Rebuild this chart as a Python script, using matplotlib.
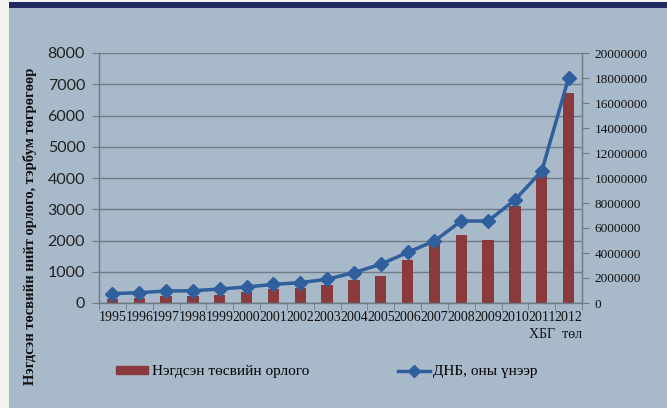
import matplotlib
matplotlib.use("Agg")
import matplotlib.pyplot as plt
import matplotlib.patches as mpatches
from matplotlib.lines import Line2D
import numpy as np

years = ["1995", "1996", "1997", "1998", "1999", "2000", "2001", "2002", "2003",
         "2004", "2005", "2006", "2007", "2008", "2009", "2010", "2011", "2012"]
revenue = [130, 170, 220, 220, 265, 360, 440, 490, 565,
           725, 850, 1375, 1900, 2185, 2005, 3100, 4100, 6720]
gdp = [750000, 825000, 960000, 980000, 1120000, 1280000, 1490000, 1630000, 1900000,
       2430000, 3100000, 4050000, 4960000, 6560000, 6560000, 8250000, 10560000, 18000000]
left_ticks = [0, 1000, 2000, 3000, 4000, 5000, 6000, 7000, 8000]
right_ticks = [0, 2000000, 4000000, 6000000, 8000000, 10000000, 12000000, 14000000,
               16000000, 18000000, 20000000]

bg = "#a8b9ca"
bar_color = "#8a3a3d"
line_color = "#2f5f9d"
grid_color = "#6f7c88"
serif = "Liberation Serif"

fig = plt.figure(figsize=(6.67, 4.08), dpi=100, facecolor=bg)
fig.patches.append(mpatches.Rectangle((0, 0), 9/667, 1, transform=fig.transFigure,
                                      facecolor="#f3f3ef", edgecolor="none", zorder=0))
fig.patches.append(mpatches.Rectangle((9/667, 1-7.5/408), 1, 5.5/408, transform=fig.transFigure,
                                      facecolor="#1f2a5e", edgecolor="none", zorder=0))
fig.patches.append(mpatches.Rectangle((9/667, 1-2/408), 1, 2/408, transform=fig.transFigure,
                                      facecolor="#f3f3ef", edgecolor="none", zorder=0))

ax = fig.add_axes([99/667, 1-303/408, (582-99)/667, (303-53)/408])
ax.set_facecolor("none")
x = np.arange(len(years))
ax.bar(x, revenue, width=0.42, color=bar_color, zorder=2)
ax.set_ylim(0, 8000)
ax.set_xlim(-0.5, len(years)-0.5)
ax.set_yticks(left_ticks)
ax.set_yticklabels([str(t) for t in left_ticks], fontsize=11.5, color="#222222",
                   family="Lato")
ax.yaxis.grid(True, color=grid_color, linewidth=1.0, zorder=0)
ax.set_axisbelow(True)
ax.set_xticks(x)
ax.set_xticklabels(years, fontsize=10, family=serif, color="#111111")
ax.set_xticks(np.arange(-0.5, len(years), 1), minor=True)
ax.tick_params(axis="x", which="major", length=0, pad=6)
ax.tick_params(axis="x", which="minor", length=5, color=grid_color)
ax.tick_params(axis="y", length=5, color=grid_color, pad=5)
for s in ["left", "bottom", "right", "top"]:
    ax.spines[s].set_color(grid_color)
    ax.spines[s].set_linewidth(1.0)
ax.spines["top"].set_visible(False)

ax2 = ax.twinx()
ax2.plot(x, gdp, color=line_color, linewidth=2.5, marker="D", markersize=7,
         zorder=3)
ax2.set_ylim(0, 20000000)
ax2.set_yticks(right_ticks)
ax2.set_yticklabels([str(t) for t in right_ticks], fontsize=9.5, family=serif,
                    color="#111111")
ax2.tick_params(axis="y", length=5, color=grid_color, pad=4)
for s in ["left", "bottom", "right", "top"]:
    ax2.spines[s].set_color(grid_color)
ax2.spines["top"].set_visible(False)

fig.text(30/667, 1-68/408, "Нэгдсэн төсвийн нийт орлого, тэрбум төгрөгөөр",
         rotation=90, ha="center", va="top", fontsize=10.5, fontweight="bold",
         family=serif, color="#111111")
fig.text(582/667, 1-334/408, "ХБГ  төл", ha="right", va="center", fontsize=10,
         family=serif, color="#111111")

handles = [mpatches.Patch(color=bar_color),
           Line2D([0], [0], color=line_color, linewidth=2.5, marker="D", markersize=6)]
fig.legend(handles, ["Нэгдсэн төсвийн орлого", "ДНБ, оны үнээр"],
           loc="center left", bbox_to_anchor=(102/667, 1-372/408), ncol=2,
           frameon=False, prop={"family": serif, "size": 11},
           handlelength=2.1, handleheight=0.5, handletextpad=0.25, columnspacing=5.8)

fig.savefig("out.png", dpi=100, facecolor=bg)
